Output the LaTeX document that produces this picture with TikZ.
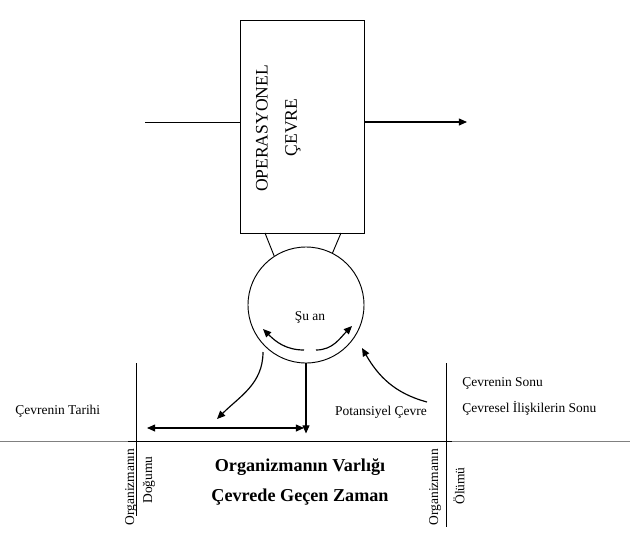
\documentclass[tikz,border=0pt]{standalone}
\usepackage{fontspec}
\setmainfont{Liberation Serif}
\usetikzlibrary{arrows.meta}
\begin{document}
\begin{tikzpicture}[
x=0.03cm,y=-0.03cm,
line width=0.8pt,
small/.style={font=\fontsize{11.5}{13}\selectfont,inner sep=0pt},
big/.style={font=\fontsize{15}{18}\selectfont,inner sep=0pt,rotate=90},
heading/.style={font=\fontsize{15.5}{18}\selectfont\bfseries,inner sep=0pt},
upright/.style={small,rotate=90},
arr/.style={-{Triangle[length=7pt,width=6pt]},line width=1pt}
]
\useasboundingbox (0,0) rectangle (640,554);

% operasyonel cevre
\node[draw,minimum width=3.72cm,minimum height=6.39cm] (env) at (302,126.5) {};
\node[big] (op) at ([shift={(-40,2)}]env.center) {OPERASYONEL};
\node[big] (cv) at ([shift={(-9,1)}]env.center) {ÇEVRE};
\coordinate (in) at (145,122);
\coordinate (out) at (467,122);
\draw (in) -- (in -| env.west);
\draw[arr] (out -| env.east) -- (out);

% su an
\node[circle,draw,minimum size=3.48cm,inner sep=0pt] (now) at (306,305) {};
\node[small] (nowtext) at ([shift={(4,12)}]now.center) {Şu an};
\coordinate (legl) at (265,233);
\coordinate (legr) at (341,233);
\draw (legl) -- (now.123);
\draw (legr) -- (now.63);
\draw[arr] ([shift={(-2,45)}]now.center) to[out=180,in=-45] ([shift={(-43,24)}]now.center);
\draw[arr] ([shift={(10,45)}]now.center) to[out=0,in=-135] ([shift={(46,21)}]now.center);

% zaman ekseni
\draw[gray] (0,441) -- (630,441);
\draw (128,441) -- (452,441);
\coordinate (birth) at (136,363);
\coordinate (death) at (446,363);
\draw (birth) -- ++(0,153);
\draw (death) -- ++(0,164);

% oklar
\coordinate (past) at (147,428);
\coordinate (present) at (304,428);
\coordinate (pot) at (427,402);
\draw[{Triangle[length=7pt,width=6pt]}-{Triangle[length=7pt,width=6pt]},line width=1pt] (past) -- (present);
\draw[arr] (now.south) -- ++(0,70);
\draw[arr] ([shift={(-43,47)}]now.center) to[out=-90,in=45] (217,419);
\draw[arr] (pot) to[out=165,in=-60] ([shift={(56,43)}]now.center);

% etiketler
\node[small,anchor=west] (history) at (15,411) {Çevrenin Tarihi};
\node[small] (potential) at (381,412) {Potansiyel Çevre};
\node[small,anchor=west] (end1) at (462,383) {Çevrenin Sonu};
\node[small,anchor=west] (end2) at (462,408) {Çevresel İlişkilerin Sonu};
\node[upright] (org1) at (131,487) {Organizmanın};
\node[upright] (born) at (149,480) {Doğumu};
\node[upright] (org2) at (435,487) {Organizmanın};
\node[upright] (died) at (459,486) {Ölümü};
\node[heading] (exist) at (300,467) {Organizmanın Varlığı};
\node[heading] (time) at (300,497) {Çevrede Geçen Zaman};
\end{tikzpicture}
\end{document}
